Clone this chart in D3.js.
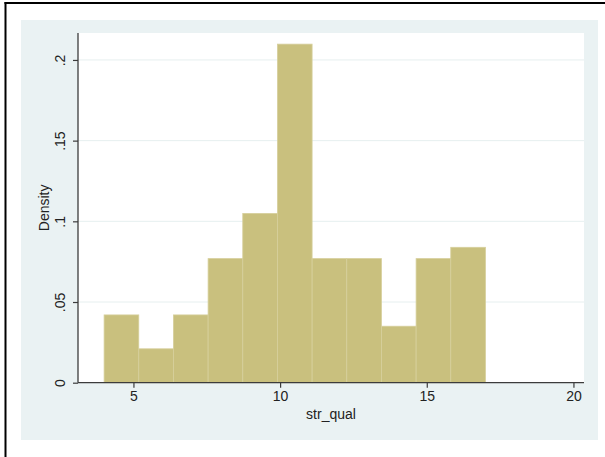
<!DOCTYPE html>
<html><head><meta charset="utf-8">
<script src="https://cdn.jsdelivr.net/npm/d3@7"></script>
<style>html,body{margin:0;padding:0;background:#fff;}svg{display:block;font-family:"Liberation Sans",Arial,Helvetica,sans-serif;}</style>
</head><body>
<script>
// Data
const binStart = 4;
const binEnd = 17;
const densities = [0.0420, 0.0210, 0.0420, 0.0769, 0.1049, 0.2098, 0.0769, 0.0769, 0.0350, 0.0769, 0.0839];
const xTicks = [5, 10, 15, 20];
const yTicks = [0, 0.05, 0.1, 0.15, 0.2];
const yTickLabels = ["0", ".05", ".1", ".15", ".2"];
const xTitle = "str_qual";
const yTitle = "Density";

const W = 605, H = 457;
const svg = d3.select("body").append("svg").attr("width", W).attr("height", H);
svg.append("rect").attr("width", W).attr("height", H).attr("fill", "#fff");

// outer frame (top & left edges visible)
svg.append("rect").attr("x", 4.5).attr("y", 2).attr("width", W).attr("height", 2).attr("fill", "#000");
svg.append("rect").attr("x", 4.5).attr("y", 2).attr("width", 2).attr("height", H).attr("fill", "#000");

// graph region
svg.append("rect").attr("x", 21).attr("y", 20).attr("width", 577).attr("height", 420).attr("fill", "#eaf2f3");

const plot = {l: 78, r: 584, t: 33, b: 382.7};
svg.append("rect").attr("x", plot.l).attr("y", plot.t).attr("width", plot.r - plot.l).attr("height", plot.b - plot.t).attr("fill", "#fff");

const x = d3.scaleLinear().domain([3.11, 20.36]).range([plot.l, plot.r]);
const y = d3.scaleLinear().domain([0, 0.2167]).range([plot.b, plot.t]);

// gridlines
svg.append("g").selectAll("line").data(yTicks.slice(1)).join("line")
  .attr("x1", plot.l).attr("x2", plot.r)
  .attr("y1", d => y(d)).attr("y2", d => y(d))
  .attr("stroke", "#e6efef").attr("stroke-width", 1);

// bars
const nb = densities.length;
const bw = (binEnd - binStart) / nb;
svg.append("g").selectAll("rect").data(densities).join("rect")
  .attr("x", (d, i) => x(binStart + i * bw))
  .attr("width", (d, i) => x(binStart + (i + 1) * bw) - x(binStart + i * bw))
  .attr("y", d => y(d))
  .attr("height", d => y(0) - y(d))
  .attr("fill", "#c9c07e")
  .attr("stroke", "#d6cf9c").attr("stroke-width", 0.8);

// axes
const FS = 14;
const xAxis = d3.axisBottom(x).tickValues(xTicks).tickSize(5).tickPadding(3).tickFormat(d3.format("d"));
const gx = svg.append("g").attr("transform", `translate(0,${plot.b})`).call(xAxis);
gx.select(".domain").attr("d", `M${plot.l},0H${plot.r}`).attr("stroke", "#3c3c3c").attr("stroke-width", 1.3);
gx.selectAll(".tick line").attr("stroke", "#3c3c3c").attr("stroke-width", 1.2);
gx.selectAll(".tick text").attr("font-size", FS).attr("fill", "#222").attr("font-family", null);

const yAxis = d3.axisLeft(y).tickValues(yTicks).tickSize(5).tickFormat((d, i) => yTickLabels[i]);
const gy = svg.append("g").attr("transform", `translate(${plot.l},0)`).call(yAxis);
gy.select(".domain").attr("d", `M0,${plot.b}V${plot.t}`).attr("stroke", "#3c3c3c").attr("stroke-width", 1.3);
gy.selectAll(".tick line").attr("stroke", "#3c3c3c").attr("stroke-width", 1.2);
gy.selectAll(".tick text")
  .attr("font-size", FS).attr("fill", "#222").attr("font-family", null)
  .attr("x", null)
  .attr("text-anchor", "middle")
  .attr("transform", "translate(-18,0) rotate(-90)")
  .attr("y", 0).attr("dy", "0.36em");

// titles
svg.append("text").attr("x", (plot.l + plot.r) / 2).attr("y", 419)
  .attr("text-anchor", "middle").attr("font-size", FS).attr("fill", "#222").text(xTitle);
svg.append("text").attr("transform", `translate(49,${(plot.t + plot.b) / 2}) rotate(-90)`)
  .attr("text-anchor", "middle").attr("font-size", FS).attr("fill", "#222").text(yTitle);
</script>
</body></html>
